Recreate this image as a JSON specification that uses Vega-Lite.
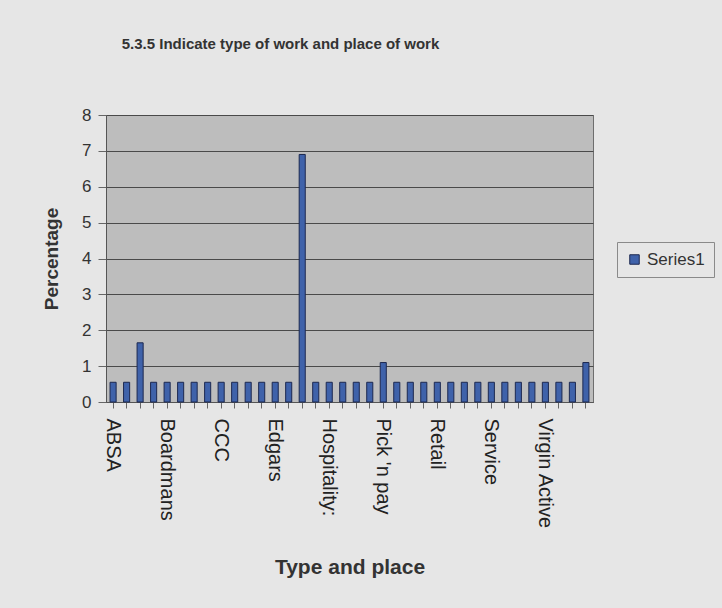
{
  "$schema": "https://vega.github.io/schema/vega-lite/v6.json",
  "width": 487,
  "height": 287,
  "autosize": "none",
  "padding": {"left": 106, "top": 115, "right": 129, "bottom": 206},
  "background": "#e6e6e6",
  "title": {
    "text": "5.3.5 Indicate type of work and place of work",
    "font": "Liberation Sans",
    "fontSize": 15,
    "fontWeight": "bold",
    "color": "#333333",
    "anchor": "middle",
    "dx": -69,
    "offset": 54
  },
  "config": {
    "font": "Liberation Sans",
    "view": {"fill": "#bdbdbd", "stroke": "#6e6e6e", "strokeWidth": 1}
  },
  "data": {
    "values": [
      {"place": "ABSA", "pct": 0.55, "series": "Series1"},
      {"place": "Item 2", "pct": 0.55, "series": "Series1"},
      {"place": "Item 3", "pct": 1.65, "series": "Series1"},
      {"place": "Item 4", "pct": 0.55, "series": "Series1"},
      {"place": "Boardmans", "pct": 0.55, "series": "Series1"},
      {"place": "Item 6", "pct": 0.55, "series": "Series1"},
      {"place": "Item 7", "pct": 0.55, "series": "Series1"},
      {"place": "Item 8", "pct": 0.55, "series": "Series1"},
      {"place": "CCC", "pct": 0.55, "series": "Series1"},
      {"place": "Item 10", "pct": 0.55, "series": "Series1"},
      {"place": "Item 11", "pct": 0.55, "series": "Series1"},
      {"place": "Item 12", "pct": 0.55, "series": "Series1"},
      {"place": "Edgars", "pct": 0.55, "series": "Series1"},
      {"place": "Item 14", "pct": 0.55, "series": "Series1"},
      {"place": "Item 15", "pct": 6.9, "series": "Series1"},
      {"place": "Item 16", "pct": 0.55, "series": "Series1"},
      {"place": "Hospitality:", "pct": 0.55, "series": "Series1"},
      {"place": "Item 18", "pct": 0.55, "series": "Series1"},
      {"place": "Item 19", "pct": 0.55, "series": "Series1"},
      {"place": "Item 20", "pct": 0.55, "series": "Series1"},
      {"place": "Pick 'n pay", "pct": 1.1, "series": "Series1"},
      {"place": "Item 22", "pct": 0.55, "series": "Series1"},
      {"place": "Item 23", "pct": 0.55, "series": "Series1"},
      {"place": "Item 24", "pct": 0.55, "series": "Series1"},
      {"place": "Retail", "pct": 0.55, "series": "Series1"},
      {"place": "Item 26", "pct": 0.55, "series": "Series1"},
      {"place": "Item 27", "pct": 0.55, "series": "Series1"},
      {"place": "Item 28", "pct": 0.55, "series": "Series1"},
      {"place": "Service", "pct": 0.55, "series": "Series1"},
      {"place": "Item 30", "pct": 0.55, "series": "Series1"},
      {"place": "Item 31", "pct": 0.55, "series": "Series1"},
      {"place": "Item 32", "pct": 0.55, "series": "Series1"},
      {"place": "Virgin Active", "pct": 0.55, "series": "Series1"},
      {"place": "Item 34", "pct": 0.55, "series": "Series1"},
      {"place": "Item 35", "pct": 0.55, "series": "Series1"},
      {"place": "Item 36", "pct": 1.1, "series": "Series1"}
    ]
  },
  "mark": {"type": "bar", "stroke": "#1c2850", "strokeWidth": 1},
  "encoding": {
    "x": {
      "field": "place",
      "type": "nominal",
      "sort": null,
      "scale": {"paddingInner": 0.55, "paddingOuter": 0.3},
      "axis": {
        "title": "Type and place",
        "titleFont": "Liberation Sans",
        "titleFontSize": 21,
        "titleFontWeight": "bold",
        "titleColor": "#333333",
        "titlePadding": 28,
        "labelExpr": "indexof(datum.value, 'Item ') === 0 ? '' : datum.label",
        "labelAngle": 90,
        "labelAlign": "left",
        "labelBaseline": "middle",
        "labelFont": "Liberation Sans",
        "labelFontSize": 20,
        "labelColor": "#222222",
        "labelPadding": 10,
        "labelOverlap": false,
        "tickColor": "#666666",
        "tickSize": 6,
        "domainColor": "#555555",
        "grid": false
      }
    },
    "y": {
      "field": "pct",
      "type": "quantitative",
      "scale": {"domain": [0, 8], "nice": false},
      "axis": {
        "title": "Percentage",
        "titleFont": "Liberation Sans",
        "titleFontSize": 19,
        "titleFontWeight": "bold",
        "titleColor": "#333333",
        "titlePadding": 20,
        "values": [0, 1, 2, 3, 4, 5, 6, 7, 8],
        "labelFont": "Liberation Sans",
        "labelFontSize": 17,
        "labelColor": "#333333",
        "labelPadding": 7,
        "tickSize": 8,
        "tickColor": "#666666",
        "domainColor": "#555555",
        "grid": true,
        "gridColor": "#4a4a4a",
        "gridWidth": 1
      }
    },
    "color": {
      "field": "series",
      "type": "nominal",
      "scale": {"range": ["#3f62aa"]},
      "legend": {
        "title": null,
        "orient": "none",
        "legendX": 511,
        "legendY": 127,
        "symbolType": "square",
        "symbolSize": 90,
        "symbolStrokeColor": "#1c2850",
        "symbolStrokeWidth": 1,
        "labelFont": "Liberation Sans",
        "labelFontSize": 17,
        "labelColor": "#333333",
        "strokeColor": "#8a8a8a",
        "padding": 9,
        "fillColor": "#e6e6e6"
      }
    }
  }
}
